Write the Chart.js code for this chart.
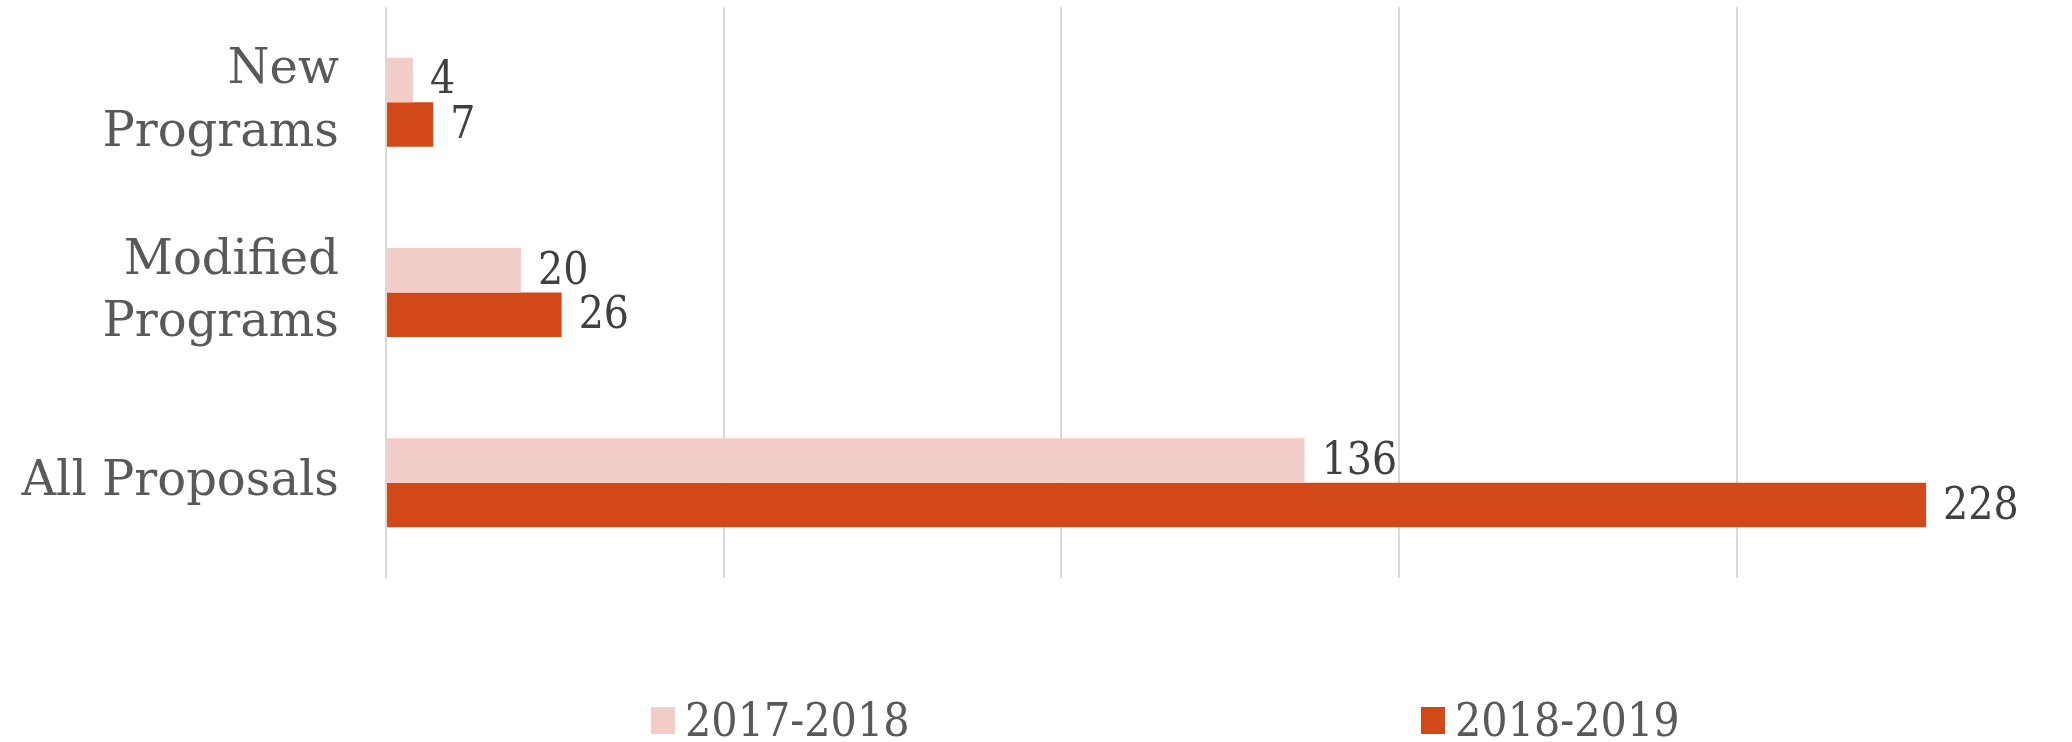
<!DOCTYPE html>
<html>
<head>
<meta charset="utf-8">
<script src="https://cdn.jsdelivr.net/npm/chart.js@4.4.1/dist/chart.umd.min.js"></script>
<style>
    html, body { margin: 0; padding: 0; background: #fff; }
    #wrap { position: relative; width: 2072px; height: 742px; }
    #legend {
        position: absolute; left: 0; top: 694px; width: 2072px; height: 52px;
        font-family: 'DejaVu Serif Condensed', 'DejaVu Serif', serif; font-size: 46px; color: #595959;
    }
    .item { position: absolute; top: 0; height: 52px; display: flex; align-items: center; }
    .swatch { width: 24px; height: 27px; margin-right: 10px; }
</style>
</head>
<body>
<div id="wrap">
    <canvas id="programChart" width="2072" height="742"></canvas>
    <div id="legend"></div>
</div>
<script>
// categories and series values
const categories = [['New', 'Programs'], ['Modified', 'Programs'], 'All Proposals'];
const seriesNames = ['2017-2018', '2018-2019'];
const values2017 = [4, 20, 136];
const values2018 = [7, 26, 228];
const gridValues = [0, 50, 100, 150, 200];
const seriesColors = ['#F3CEC9', '#D34817'];

// draws the value just past the end of each bar
const valueLabels = {
    id: 'valueLabels',
    afterDatasetsDraw(chart) {
        const ctx = chart.ctx;
        ctx.save();
        ctx.font = '44px "DejaVu Serif Condensed", "DejaVu Serif", serif';
        ctx.fillStyle = '#404040';
        ctx.textAlign = 'left';
        ctx.textBaseline = 'middle';
        chart.data.datasets.forEach((ds, i) => {
            chart.getDatasetMeta(i).data.forEach((bar, j) => {
                ctx.fillText(ds.data[j], bar.x + 17, bar.y + 2);
            });
        });
        ctx.restore();
    }
};

Chart.defaults.font.family = "'DejaVu Serif', serif";

const chart = new Chart(document.getElementById('programChart'), {
    type: 'bar',
    data: {
        labels: categories,
        datasets: [{
            label: seriesNames[0],
            data: values2017,
            backgroundColor: seriesColors[0]
        }, {
            label: seriesNames[1],
            data: values2018,
            backgroundColor: seriesColors[1]
        }]
    },
    options: {
        indexAxis: 'y',
        responsive: false,
        animation: false,
        devicePixelRatio: 1,
        layout: { padding: { top: 7, bottom: 164, right: 0, left: 0 } },
        datasets: {
            bar: { barPercentage: 1, categoryPercentage: 0.468 }
        },
        scales: {
            x: {
                min: 0,
                max: 249.6,
                ticks: { display: false },
                afterBuildTicks(scale) {
                    scale.ticks = gridValues.map(v => ({ value: v }));
                },
                grid: { color: '#D9D9D9', lineWidth: 2, drawTicks: false },
                border: { display: false }
            },
            y: {
                grid: { display: false, drawTicks: false },
                border: { display: false },
                ticks: {
                    color: '#595959',
                    padding: 47,
                    font: { size: 48, lineHeight: 1.3 }
                },
                afterFit(scale) {
                    scale.width = 386;
                    scale.paddingTop = 0;
                    scale.paddingBottom = 0;
                }
            }
        },
        plugins: {
            legend: { display: false },
            tooltip: { enabled: false }
        }
    },
    plugins: [valueLabels]
});

// legend below the chart, items spread wide like the original
const legendEl = document.getElementById('legend');
const legendLeft = [651, 1421];
seriesNames.forEach((name, i) => {
    const item = document.createElement('div');
    item.className = 'item';
    item.style.left = legendLeft[i] + 'px';
    item.innerHTML = `<div class="swatch" style="background:${seriesColors[i]}"></div><span>${name}</span>`;
    legendEl.appendChild(item);
});
</script>
</body>
</html>
